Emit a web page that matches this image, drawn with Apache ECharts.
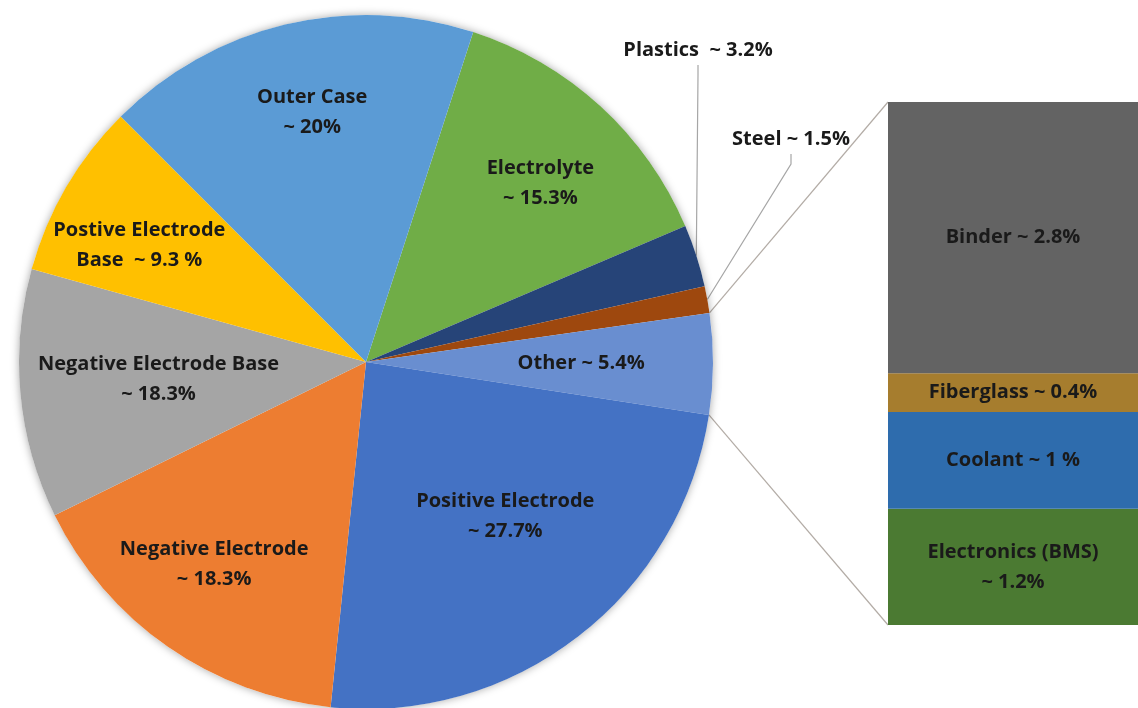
<!DOCTYPE html>
<html>
<head>
<meta charset="utf-8">
<script src="https://cdn.jsdelivr.net/npm/echarts@6/dist/echarts.min.js"></script>
<style>
  html, body { margin: 0; padding: 0; background: #fff; }
  #chart { width: 1138px; height: 708px; }
</style>
</head>
<body>
<div id="chart"></div>
<script>
// pie slices, clockwise from the Electrolyte slice
var pieNames = ['Electrolyte', 'Plastics', 'Steel', 'Other', 'Positive Electrode',
  'Negative Electrode', 'Negative Electrode Base', 'Postive Electrode Base', 'Outer Case'];
// share of the circle each slice takes in the picture (%)
var pieShares = [13.6, 2.9, 1.25, 4.7, 24.2, 16.1, 11.6, 8.2, 17.5];
var pieLabels = ['Electrolyte\n~ 15.3%', 'Plastics  ~ 3.2%', 'Steel ~ 1.5%', 'Other ~ 5.4%',
  'Positive Electrode\n~ 27.7%', 'Negative Electrode\n~ 18.3%', 'Negative Electrode Base\n~ 18.3%',
  'Postive Electrode\nBase  ~ 9.3 %', 'Outer Case\n~ 20%'];
var pieColors = ['#70ad47', '#264478', '#9e480e', '#698ed0', '#4472c4',
  '#ed7d31', '#a5a5a5', '#ffc000', '#5b9bd5'];

// breakdown of "Other", bottom to top
var otherNames = ['Electronics (BMS)', 'Coolant', 'Fiberglass', 'Binder'];
var otherValues = [1.2, 1, 0.4, 2.8];
var otherLabels = ['Electronics (BMS)\n~ 1.2%', 'Coolant ~ 1 %', 'Fiberglass ~ 0.4%', 'Binder ~ 2.8%'];
var otherColors = ['#4b7a32', '#2e6cad', '#a67d2e', '#636363'];

(function () {
  var chartDom = document.getElementById('chart');
  var myChart = echarts.init(chartDom);
  var option;

  // layout
  var cx = 366, cy = 362, R = 347;
  var firstAngle = 18; // degrees clockwise from 12 o'clock
  var gridBox = { left: 888, top: 102, right: 0, bottom: 83 };
  var H = 708;
  // label distance from centre (fraction of radius) and angle nudge (degrees)
  var labelRadius = [0.72, 0, 0, 0.62, 0.6, 0.73, 0.6, 0.735, 0.735];
  var labelShift = [1.8, 0, 0, 0, -4.3, 2, 0.5, -3, 1.3];
  var outerLabelPos = { 1: [698, 50], 2: [791, 139] };

  var total = pieShares.reduce(function (a, b) { return a + b; }, 0);
  var cum = [];
  var acc = 0;
  pieShares.forEach(function (v) { cum.push(acc); acc += v; });
  function angleAt(share, shift) {
    return (firstAngle + share / total * 360 + (shift || 0)) * Math.PI / 180;
  }
  function edgePoint(share) {
    var a = angleAt(share);
    return [cx + R * Math.sin(a), cy - R * Math.cos(a)];
  }

  var textStyle = {
    fontFamily: 'Open Sans',
    fontWeight: 'bold',
    fontSize: 20,
    lineHeight: 30,
    color: '#1a1a1a'
  };

  var pieData = pieNames.map(function (n, i) {
    var outside = outerLabelPos[i] != null;
    return {
      name: n,
      value: pieShares[i],
      itemStyle: { color: pieColors[i] },
      label: {
        show: true,
        position: outside ? 'outside' : 'inside',
        formatter: pieLabels[i]
      },
      labelLine: { show: outside }
    };
  });

  var otherIdx = pieNames.indexOf('Other');
  var pTop = edgePoint(cum[otherIdx]);
  var pBot = edgePoint(cum[otherIdx] + pieShares[otherIdx]);

  option = {
    backgroundColor: '#fff',
    animation: false,
    grid: gridBox,
    xAxis: { type: 'category', data: ['Other'], show: false },
    yAxis: {
      type: 'value', show: false, min: 0,
      max: otherValues.reduce(function (a, b) { return a + b; }, 0)
    },
    graphic: [
      {
        type: 'line', z: 1, silent: true,
        shape: { x1: pTop[0], y1: pTop[1], x2: gridBox.left, y2: gridBox.top },
        style: { stroke: '#b3aca6', lineWidth: 1.2 }
      },
      {
        type: 'line', z: 1, silent: true,
        shape: { x1: pBot[0], y1: pBot[1], x2: gridBox.left, y2: H - gridBox.bottom },
        style: { stroke: '#b3aca6', lineWidth: 1.2 }
      }
    ],
    series: [
      {
        // soft shadow under the whole pie
        type: 'pie',
        silent: true,
        center: [cx, cy],
        radius: R,
        label: { show: false },
        labelLine: { show: false },
        itemStyle: { color: '#fff', shadowBlur: 8, shadowColor: 'rgba(0,0,0,0.35)' },
        data: [1]
      },
      {
        type: 'pie',
        center: [cx, cy],
        radius: R,
        startAngle: 90 - firstAngle,
        clockwise: true,
        avoidLabelOverlap: false,
        label: Object.assign({}, textStyle, { align: 'center' }),
        labelLine: {
          length: 20, length2: 10,
          lineStyle: { color: '#a6a6a6', width: 1.2 }
        },
        labelLayout: function (params) {
          var i = params.dataIndex;
          if (outerLabelPos[i]) {
            return { x: outerLabelPos[i][0], y: outerLabelPos[i][1], align: 'center', verticalAlign: 'middle' };
          }
          var a = angleAt(cum[i] + pieShares[i] / 2, labelShift[i]);
          return {
            x: cx + labelRadius[i] * R * Math.sin(a),
            y: cy - labelRadius[i] * R * Math.cos(a),
            align: 'center',
            verticalAlign: 'middle'
          };
        },
        data: pieData
      }
    ].concat(otherNames.map(function (n, i) {
      return {
        name: n,
        type: 'bar',
        stack: 'other',
        barWidth: '100%',
        itemStyle: { color: otherColors[i] },
        label: Object.assign({ show: true, position: 'inside', formatter: otherLabels[i] }, textStyle),
        data: [otherValues[i]]
      };
    }))
  };

  option && myChart.setOption(option);
})();
</script>
</body>
</html>
